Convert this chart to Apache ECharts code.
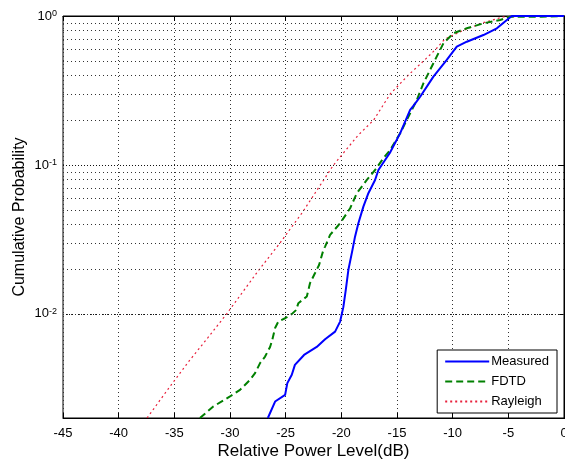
<!DOCTYPE html>
<html>
<head>
<meta charset="utf-8">
<script src="https://cdn.jsdelivr.net/npm/echarts@6/dist/echarts.min.js"></script>
<style>
html,body{margin:0;padding:0;background:#fff;}
#chart{width:565px;height:463px;}
</style>
</head>
<body>
<div id="chart"></div>
<script>
// x: Relative power level (dB), y: cumulative probability
const measuredX = [-26.6, -25.95, -25.05, -24.85, -24.45, -24.17, -23.35, -22.21, -21.46, -20.56, -20.11, -19.82, -19.6, -19.37, -19.0, -18.77, -18.47, -18.02, -17.57, -16.97, -16.67, -16.07, -15.6, -14.72, -13.82, -13.53, -12.92, -11.73, -10.53, -9.63, -8.73, -7.24, -6.03, -5.13, -4.69, -2, 0];
const measuredY = [0.002, 0.00258, 0.00286, 0.00343, 0.0039, 0.00455, 0.0053, 0.0060, 0.00676, 0.0076, 0.00888, 0.0111, 0.0145, 0.0197, 0.0269, 0.033, 0.0406, 0.0525, 0.0646, 0.0793, 0.0925, 0.108, 0.122, 0.163, 0.234, 0.249, 0.287, 0.392, 0.507, 0.622, 0.672, 0.745, 0.827, 0.94, 1.0, 1.0, 1.0];

const fdtdX = [-32.7, -31.5, -30.0, -29.1, -28.2, -27.75, -27.3, -26.85, -26.4, -26.2, -25.95, -25.66, -25.05, -24.43, -24.07, -23.86, -23.1, -22.81, -22.36, -22.0, -21.61, -21.46, -21.01, -20.11, -19.21, -18.61, -17.71, -16.97, -16.22, -15.62, -14.72, -13.82, -13.22, -12.63, -11.73, -10.83, -9.93, -8.73, -7.24, -5.74, -4.84, -2, 0];
const fdtdY = [0.002, 0.00239, 0.00279, 0.00309, 0.00361, 0.0040, 0.00467, 0.00517, 0.0060, 0.0067, 0.00805, 0.00888, 0.00935, 0.0100, 0.0106, 0.0118, 0.0131, 0.0161, 0.0188, 0.0213, 0.0269, 0.0283, 0.0339, 0.0406, 0.0512, 0.0646, 0.0793, 0.0925, 0.111, 0.126, 0.163, 0.222, 0.273, 0.353, 0.482, 0.656, 0.766, 0.827, 0.893, 0.94, 0.99, 0.99, 1.0];

const rayleighX = [-37.45, -35.6, -33.7, -32.0, -30.3, -27.5, -25.5, -23.5, -20.7, -18.5, -17.1, -15.6, -14.0, -12.6, -11.5, -10.7, -9.06, -7.3, -6.2, -5.5, -3, 0];
const rayleighY = [0.002, 0.0031, 0.0048, 0.0069, 0.0100, 0.0193, 0.030, 0.048, 0.100, 0.158, 0.200, 0.300, 0.400, 0.500, 0.600, 0.700, 0.800, 0.900, 0.950, 0.985, 1.0, 1.0];

const xTicks = [-45, -40, -35, -30, -25, -20, -15, -10, -5, 0];
const yMajor = [1, 0.1, 0.01];
const yMinor = [0.002, 0.003, 0.004, 0.005, 0.006, 0.007, 0.008, 0.009,
                0.02, 0.03, 0.04, 0.05, 0.06, 0.07, 0.08, 0.09,
                0.2, 0.3, 0.4, 0.5, 0.6, 0.7, 0.8, 0.9];
const seriesNames = ['Measured', 'FDTD', 'Rayleigh'];

const zip = (xs, ys) => xs.map((x, i) => [x, ys[i]]);
const FONT = 'Liberation Sans, Arial, sans-serif';

const chart = echarts.init(document.getElementById('chart'), null, {renderer: 'canvas'});

const supLabel = v => {
  const e = Math.round(Math.log10(v));
  if (Math.abs(Math.log10(v) - e) > 1e-6) return '';
  return '{a|10}{s|' + (e === 0 ? '0' : String(e)) + '}';
};

const gridDot = {color: '#333', type: [1, 3], width: 1};

chart.setOption({
  animation: false,
  backgroundColor: '#fff',
  textStyle: {fontFamily: FONT},
  grid: {left: 63, right: 1, top: 16, bottom: 45, outerBoundsMode: 'none', containLabel: false,
         show: true, borderColor: '#000', borderWidth: 1, backgroundColor: 'transparent'},
  legend: {
    data: seriesNames,
    orient: 'vertical',
    right: 8, bottom: 50,
    backgroundColor: '#fff',
    borderColor: '#000', borderWidth: 1,
    padding: [5, 8, 5, 7],
    itemWidth: 44, itemHeight: 12, itemGap: 7,
    itemStyle: {opacity: 0},
    textStyle: {fontFamily: FONT, fontSize: 13, color: '#000', padding: [0, 0, 0, -3]}
  },
  xAxis: [{
    type: 'value', min: -45, max: 0, interval: 5,
    name: 'Relative Power Level(dB)', nameLocation: 'middle', nameGap: 25, nameMoveOverlap: false,
    nameTextStyle: {fontFamily: FONT, fontSize: 17, color: '#000'},
    axisLine: {show: true, lineStyle: {color: '#000'}},
    axisTick: {show: true, inside: true, length: 5, lineStyle: {color: '#000'}},
    axisLabel: {fontFamily: FONT, fontSize: 13, color: '#000', margin: 9, formatter: v => String(v)},
    splitLine: {show: true, lineStyle: gridDot}
  }, {
    type: 'value', min: -45, max: 0, interval: 5, position: 'top',
    axisLine: {show: true, lineStyle: {color: '#000'}},
    axisTick: {show: true, inside: true, length: 5, lineStyle: {color: '#000'}},
    axisLabel: {show: false}, splitLine: {show: false}
  }],
  yAxis: [{
    type: 'log', logBase: 10, min: 0.002, max: 1,
    name: 'Cumulative Probability', nameLocation: 'middle', nameGap: 35, nameMoveOverlap: false,
    nameTextStyle: {fontFamily: FONT, fontSize: 16, color: '#000'},
    axisLine: {show: true, lineStyle: {color: '#000'}},
    axisTick: {show: true, inside: true, length: 5, lineStyle: {color: '#000'}},
    axisLabel: {
      margin: 6, color: '#000',
      formatter: supLabel,
      rich: {
        a: {fontFamily: FONT, fontSize: 13, color: '#000', lineHeight: 13, verticalAlign: 'bottom'},
        s: {fontFamily: FONT, fontSize: 9, color: '#000', lineHeight: 9, verticalAlign: 'top', padding: [0, 0, 7, 0]}
      }
    },
    splitLine: {show: true, lineStyle: {color: '#111', type: [1, 2], width: 1}}
  }, {
    type: 'log', logBase: 10, min: 0.002, max: 1, position: 'right',
    axisLine: {show: true, lineStyle: {color: '#000'}},
    axisTick: {show: true, inside: true, length: 5, lineStyle: {color: '#000'}},
    axisLabel: {show: false}, splitLine: {show: false}
  }],
  series: [
    {
      name: 'Measured', type: 'line', data: zip(measuredX, measuredY),
      symbol: 'none', z: 5, lineStyle: {color: '#0000ff', width: 2},
      itemStyle: {color: '#0000ff'},
      markLine: {
        silent: true, symbol: 'none', label: {show: false}, animation: false,
        lineStyle: gridDot,
        data: yMinor.map(v => ({yAxis: v}))
      }
    },
    {
      name: 'FDTD', type: 'line', data: zip(fdtdX, fdtdY),
      symbol: 'none', z: 4, lineStyle: {color: '#008000', width: 2, type: [7, 4]},
      itemStyle: {color: '#008000'}
    },
    {
      name: 'Rayleigh', type: 'line', data: zip(rayleighX, rayleighY),
      symbol: 'none', z: 3, lineStyle: {color: '#e8203c', width: 1.2, type: [2, 3]},
      itemStyle: {color: '#e8203c'}
    }
  ]
});
</script>
</body>
</html>
